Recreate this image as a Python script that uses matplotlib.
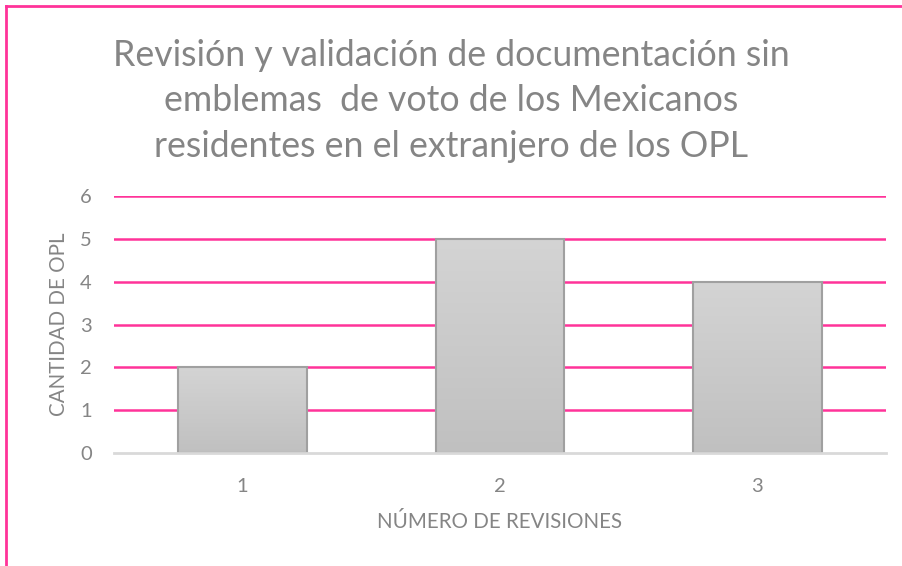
import numpy as np
import matplotlib.pyplot as plt
from matplotlib.lines import Line2D
from matplotlib.colors import LinearSegmentedColormap

# data
categories = ["1", "2", "3"]
values = [2, 5, 4]
y_ticks = [0, 1, 2, 3, 4, 5, 6]
title = ("Revisión y validación de documentación sin\n"
         "emblemas  de voto de los Mexicanos\n"
         "residentes en el extranjero de los OPL")
x_label = "NÚMERO DE REVISIONES"
y_label = "CANTIDAD DE OPL"

PINK = "#ff3399"
GRAY_TXT = "#858585"

plt.rcParams['font.family'] = ['Lato', 'DejaVu Sans']

fig = plt.figure(figsize=(9.02, 5.66), dpi=100)
W, H = 902, 566
ax = fig.add_axes([114 / W, 1 - 453 / H, (886 - 114) / W, (453 - 196) / H])

x = np.arange(len(categories))
bars = ax.bar(x, values, width=0.5, color="none", edgecolor="#a0a0a0",
              linewidth=1.5, zorder=3)

# vertical gradient inside each bar
grad = np.linspace(0, 1, 256).reshape(-1, 1)
cmap = LinearSegmentedColormap.from_list("g", ["#c0c0c0", "#d4d4d4"])
for b in bars:
    bx, by = b.get_x(), b.get_y()
    bw, bh = b.get_width(), b.get_height()
    im = ax.imshow(grad, cmap=cmap, origin="lower", aspect="auto",
                   extent=[bx, bx + bw, by, by + bh], zorder=2)
    im.set_clip_path(b)

ax.set_xlim(-0.5, 2.5)
ax.set_ylim(0, 6)
ax.set_xticks(x)
ax.set_xticklabels(categories)
ax.set_yticks(y_ticks)
ax.tick_params(length=0, labelsize=14.5, colors=GRAY_TXT, pad=16)
ax.tick_params(axis="x", pad=18)

for t in y_ticks[1:]:
    ax.axhline(t, color=PINK, linewidth=1.8, zorder=1)
for s in ["top", "right", "left"]:
    ax.spines[s].set_visible(False)
ax.spines["bottom"].set_color("#d9d9d9")
ax.spines["bottom"].set_linewidth(2)
ax.spines["bottom"].set_zorder(4)

ax.set_xlabel(x_label, fontsize=14.8, color=GRAY_TXT, labelpad=12)
ax.set_ylabel(y_label, fontsize=14.8, color=GRAY_TXT, labelpad=8)

fig.text(0.5, 1 - 101 / H, title, ha="center", va="center", fontsize=25.7,
         color=GRAY_TXT, linespacing=1.47)

# chart border (top and left)
fig.add_artist(Line2D([6 / W, 1], [1 - 6 / H] * 2, color=PINK, linewidth=2))
fig.add_artist(Line2D([6 / W] * 2, [0, 1 - 6 / H], color=PINK, linewidth=2))

fig.savefig("out.png", dpi=100, facecolor="white")
